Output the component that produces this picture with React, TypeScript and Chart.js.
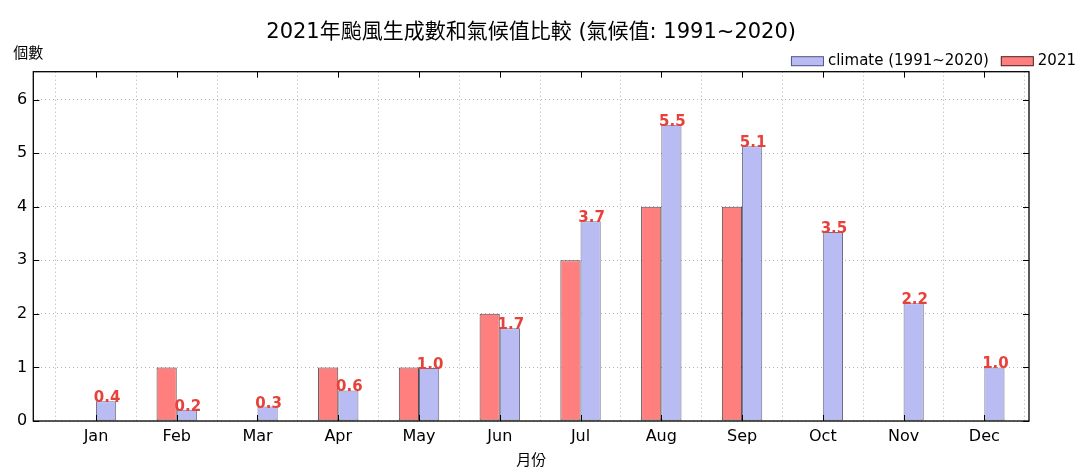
import React, { useEffect, useRef } from "react";
import { Chart, registerables } from "chart.js";

Chart.register(...registerables);

const months = ["Jan", "Feb", "Mar", "Apr", "May", "Jun", "Jul", "Aug", "Sep", "Oct", "Nov", "Dec"];
const counts2021: (number | null)[] = [0, 1, 0, 1, 1, 2, 3, 4, 4, null, null, null];
const climateAvg = [0.37, 0.21, 0.27, 0.57, 0.99, 1.73, 3.73, 5.53, 5.13, 3.53, 2.2, 1.0];
const yTickValues = [0, 1, 2, 3, 4, 5, 6];
const label2021 = "2021";
const labelClimate = "climate (1991~2020)";
const chartTitle = "2021年颱風生成數和氣候值比較 (氣候值: 1991~2020)";
const yAxisLabel = "個數";
const xAxisLabel = "月份";

const FONT = '"DejaVu Sans", "Noto Sans CJK TC", sans-serif';
const RED_FILL = "#FF7F7F";
const BLUE_FILL = "#B8BCF2";
const RED_EDGE = "rgba(0,0,0,0.7)";
const BLUE_EDGE = "rgba(30,30,70,0.65)";
const LABEL_RED = "#E8413A";

const decoPlugin = {
  id: "deco",
  afterDraw(chart: any) {
    const { ctx, chartArea: a, scales } = chart;
    ctx.save();
    // frame
    ctx.strokeStyle = "#000";
    ctx.lineWidth = 1.3;
    ctx.setLineDash([]);
    ctx.strokeRect(a.left, a.top, a.right - a.left, a.bottom - a.top);
    // inward ticks
    ctx.lineWidth = 1;
    const tl = 6;
    const xs = scales.x;
    xs.ticks.forEach((t: any) => {
      const px = Math.round(xs.getPixelForValue(t.value)) + 0.5;
      ctx.beginPath();
      ctx.moveTo(px, a.bottom);
      ctx.lineTo(px, a.bottom - tl);
      ctx.moveTo(px, a.top);
      ctx.lineTo(px, a.top + tl);
      ctx.stroke();
    });
    const ys = scales.y;
    ys.ticks.forEach((t: any) => {
      const py = Math.round(ys.getPixelForValue(t.value)) + 0.5;
      ctx.beginPath();
      ctx.moveTo(a.left, py);
      ctx.lineTo(a.left + tl, py);
      ctx.moveTo(a.right, py);
      ctx.lineTo(a.right - tl, py);
      ctx.stroke();
    });
    // value labels on climate bars
    const meta = chart.getDatasetMeta(1);
    ctx.fillStyle = LABEL_RED;
    ctx.font = `bold 15px ${FONT}`;
    ctx.textAlign = "center";
    ctx.textBaseline = "alphabetic";
    meta.data.forEach((bar: any, i: number) => {
      const v = climateAvg[i];
      if (v == null) return;
      ctx.fillText(v.toFixed(1), bar.x + 1, bar.y + 1);
    });
    // title
    ctx.fillStyle = "#000";
    ctx.font = `21px ${FONT}`;
    ctx.textAlign = "center";
    ctx.textBaseline = "middle";
    ctx.fillText(chartTitle, (a.left + a.right) / 2, a.top - 39);
    // y axis label
    ctx.font = `15px ${FONT}`;
    ctx.fillText(yAxisLabel, a.left - 5, a.top - 18);
    // legend
    const items = [
      { text: labelClimate, fill: BLUE_FILL, edge: BLUE_EDGE },
      { text: label2021, fill: RED_FILL, edge: RED_EDGE },
    ];
    ctx.font = `15px ${FONT}`;
    const boxW = 33, boxH = 10, gapBox = 4, gapItem = 12;
    const widths = items.map((it) => boxW + gapBox + ctx.measureText(it.text).width);
    const total = widths.reduce((s, w) => s + w, 0) + gapItem * (items.length - 1);
    let x = chart.width - 3 - total;
    const cy = a.top - 10.5;
    ctx.textAlign = "left";
    items.forEach((it, i) => {
      ctx.fillStyle = it.fill;
      ctx.fillRect(x, cy - boxH / 2, boxW, boxH);
      ctx.strokeStyle = it.edge;
      ctx.lineWidth = 1;
      ctx.strokeRect(x + 0.5, cy - boxH / 2 + 0.5, boxW - 1, boxH - 1);
      ctx.fillStyle = "#000";
      ctx.fillText(it.text, x + boxW + gapBox, cy);
      x += widths[i] + gapItem;
    });
    ctx.restore();
  },
};

export default function App() {
  const ref = useRef<HTMLCanvasElement>(null);
  useEffect(() => {
    if (!ref.current) return;
    const chart = new Chart(ref.current, {
      type: "bar",
      data: {
        datasets: [
          {
            label: label2021,
            data: counts2021.map((v, i) => ({ x: i, y: v })) as any,
            backgroundColor: RED_FILL,
            borderColor: RED_EDGE,
            borderWidth: 1,
            borderSkipped: false,
          },
          {
            label: labelClimate,
            data: climateAvg.map((v, i) => ({ x: i, y: v })) as any,
            backgroundColor: BLUE_FILL,
            borderColor: BLUE_EDGE,
            borderWidth: 1,
            borderSkipped: false,
          },
        ],
      },
      options: {
        animation: false,
        responsive: true,
        maintainAspectRatio: false,
        categoryPercentage: 0.5,
        barPercentage: 1.0,
        layout: { padding: { top: 71.7, right: 50, left: 0, bottom: 0 } },
        plugins: {
          legend: { display: false },
          title: { display: false },
          tooltip: { enabled: false },
        },
        scales: {
          x: {
            type: "linear",
            offset: false,
            min: -0.776,
            max: 11.553,
            afterBuildTicks: (scale: any) => {
              scale.ticks = months.map((_, i) => ({ value: i }));
            },
            afterFit: (scale: any) => {
              scale.height = 53;
            },
            ticks: {
              callback: (v: any) => months[v as number] ?? "",
              font: { family: FONT, size: 16 },
              color: "#000",
              padding: 6,
              maxRotation: 0,
              autoSkip: false,
            },
            grid: {
              color: "rgba(0,0,0,0.3)",
              drawTicks: false,
              tickLength: 0,
            },
            border: { display: false, dash: [1, 3] },
            title: {
              display: true,
              text: xAxisLabel,
              font: { family: FONT, size: 15 },
              color: "#000",
              padding: { top: 0, bottom: 4 },
            },
          },
          y: {
            min: 0,
            max: 6.52,
            afterBuildTicks: (scale: any) => {
              scale.ticks = yTickValues.map((v) => ({ value: v }));
            },
            afterFit: (scale: any) => {
              scale.width = 33.3;
            },
            ticks: {
              font: { family: FONT, size: 16 },
              color: "#000",
              padding: 6,
            },
            grid: {
              color: "rgba(0,0,0,0.3)",
              drawTicks: false,
              tickLength: 0,
            },
            border: { display: false, dash: [1, 3] },
          },
        },
      },
      plugins: [decoPlugin],
    });
    return () => chart.destroy();
  }, []);
  return (
    <div style={{ position: "fixed", left: 0, top: 0, width: 1079, height: 474, background: "#fff" }}>
      <canvas ref={ref} />
    </div>
  );
}
